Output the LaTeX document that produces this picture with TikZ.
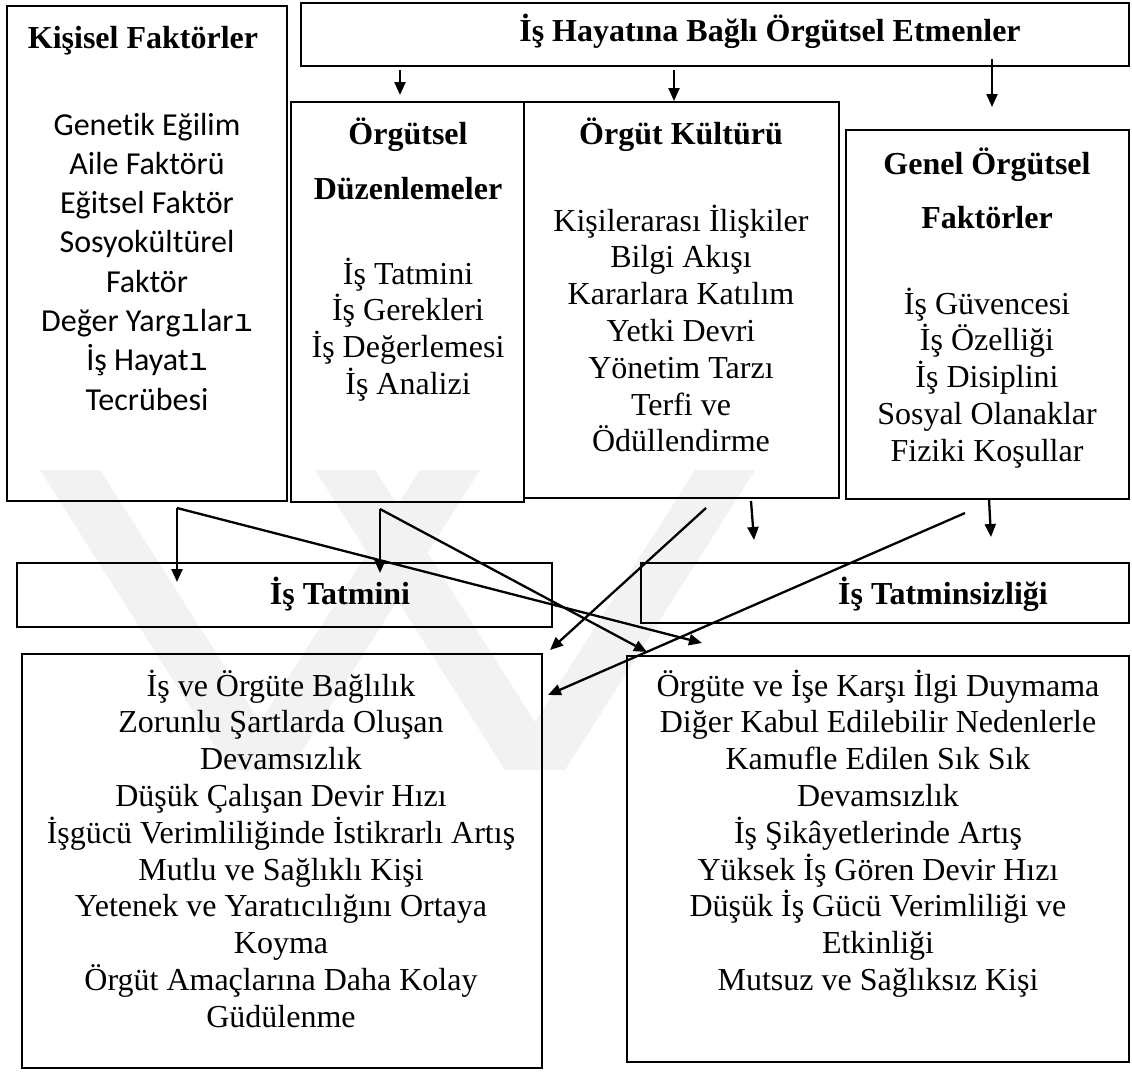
\documentclass[tikz,border=0pt]{standalone}
\usepackage{fontspec}
\setmainfont{Liberation Serif}
\newfontfamily\calibrifont[Ligatures=NoCommon]{Carlito}
\newfontfamily\typewriterfont{Liberation Mono}
\usetikzlibrary{arrows.meta}
% dotless i set in the typewriter face
\newcommand\twi{{\typewriterfont ı}}

\begin{document}
\begin{tikzpicture}[x=1pt,y=-1pt,
  box/.style={draw, line width=1.8pt, inner sep=0pt, outer sep=0pt},
  txt/.style={font=\fontsize{32}{36.8}\selectfont, inner sep=0pt, anchor=base},
  ttl/.style={inner sep=0pt, anchor=base, font=\fontsize{32}{36.8}\selectfont\bfseries},
  cal/.style={inner sep=0pt, anchor=base, font=\fontsize{32}{39.3}\selectfont\calibrifont},
  arr/.style={line width=2.3pt, -{Triangle[length=13pt,width=11pt]}},
  wmark/.style={fill=black!5, draw=none}]

\useasboundingbox[fill=white] (0,0) rectangle (1132,1072);

% faint chevrons in the background
\fill[wmark] (40,470) -- (100,470) -- (260,722) -- (420,470) -- (480,470)
  -- (290,770) -- (230,770) -- cycle;
\fill[wmark] (315,470) -- (375,470) -- (535,722) -- (695,470) -- (755,470)
  -- (565,770) -- (505,770) -- cycle;

% ---------- boxes ----------
\node[box, minimum width=280, minimum height=495] (kisisel) at (147,253.5) {};
\node[box, minimum width=828, minimum height=63]  (ust)     at (715,34.5) {};
\node[box, minimum width=233, minimum height=400] (duzen)   at (407.5,302) {};
\node[box, minimum width=315, minimum height=396] (kultur)  at (681.5,300) {};
\node[box, minimum width=283, minimum height=369] (genel)   at (987.5,314.5) {};
\node[box, minimum width=535, minimum height=64]  (tatmin)  at (284.5,595) {};
\node[box, minimum width=488, minimum height=60]  (tatsiz)  at (885,593) {};
\node[box, minimum width=520, minimum height=414] (sonucA)  at (282,861) {};
\node[box, minimum width=502, minimum height=406] (sonucB)  at (878,859) {};

% ---------- titles ----------
\node[ttl] (tUst)  at (770,41)  {İş Hayatına Bağlı Örgütsel Etmenler};
\node[ttl] (tKis)  at (143,48)  {Kişisel Faktörler};
\node[ttl] (tDuz1) at (408,144) {Örgütsel};
\node[ttl] (tDuz2) at (408,199) {Düzenlemeler};
\node[ttl] (tKul)  at (681,144) {Örgüt Kültürü};
\node[ttl] (tGen1) at (987,174) {Genel Örgütsel};
\node[ttl] (tGen2) at (987,228) {Faktörler};
\node[ttl] (tTat)  at (340,604) {İş Tatmini};
\node[ttl] (tSiz)  at (943,604) {İş Tatminsizliği};

% ---------- lists ----------
\foreach \t [count=\i from 0] in {Genetik Eğilim, Aile Faktörü, Eğitsel Faktör,
    Sosyokültürel, Faktör, Değer Yarg\twi lar\twi, İş Hayat\twi, Tecrübesi}
  \node[cal] (kis-\i) at (147,135+39.3*\i) {\t};

\foreach \t [count=\i from 0] in {İş Tatmini, İş Gerekleri, İş Değerlemesi, İş Analizi}
  \node[txt] (duz-\i) at (408,284+36.8*\i) {\t};

\foreach \t [count=\i from 0] in {Kişilerarası İlişkiler, Bilgi Akışı, Kararlara Katılım,
    Yetki Devri, Yönetim Tarzı, Terfi ve, Ödüllendirme}
  \node[txt] (kul-\i) at (681,231+36.8*\i) {\t};

\foreach \t [count=\i from 0] in {İş Güvencesi, İş Özelliği, İş Disiplini,
    Sosyal Olanaklar, Fiziki Koşullar}
  \node[txt] (gen-\i) at (987,314+36.8*\i) {\t};

\foreach \t [count=\i from 0] in {İş ve Örgüte Bağlılık, Zorunlu Şartlarda Oluşan,
    Devamsızlık, Düşük Çalışan Devir Hızı, İşgücü Verimliliğinde İstikrarlı Artış,
    Mutlu ve Sağlıklı Kişi, Yetenek ve Yaratıcılığını Ortaya, Koyma,
    Örgüt Amaçlarına Daha Kolay, Güdülenme}
  \node[txt] (sa-\i) at (281,696+36.8*\i) {\t};

\foreach \t [count=\i from 0] in {Örgüte ve İşe Karşı İlgi Duymama,
    Diğer Kabul Edilebilir Nedenlerle, Kamufle Edilen Sık Sık, Devamsızlık,
    İş Şikâyetlerinde Artış, Yüksek İş Gören Devir Hızı,
    Düşük İş Gücü Verimliliği ve, Etkinliği, Mutsuz ve Sağlıksız Kişi}
  \node[txt] (sb-\i) at (878,696+36.8*\i) {\t};

% ---------- connector points ----------
\coordinate (u1) at (400,70);   \coordinate (u1t) at (400,95);
\coordinate (u2) at (674,70);   \coordinate (u2t) at (674,101);
\coordinate (u3) at (992,59);   \coordinate (u3t) at (992,107);

\coordinate (kS) at (177,508);  \coordinate (kV) at (177,582);  \coordinate (kD) at (702,643);
\coordinate (dS) at (380,509);  \coordinate (dV) at (380,573);  \coordinate (dD) at (647,652);
\coordinate (cS) at (706,508);  \coordinate (cD) at (550,650);
\coordinate (cV0) at (751,501); \coordinate (cV) at (754,540);
\coordinate (gS) at (965,513);  \coordinate (gD) at (548,695);
\coordinate (gV0) at (989,499); \coordinate (gV) at (991,537);

% ---------- connectors ----------
\draw[arr] (u1) -- (u1t);
\draw[arr] (u2) -- (u2t);
\draw[arr] (u3) -- (u3t);

\draw[arr] (kS) -- (kV);
\draw[arr] (kS) -- (kD);
\draw[arr] (dS) -- (dV);
\draw[arr] (dS) -- (dD);
\draw[arr] (cS) -- (cD);
\draw[arr] (cV0) -- (cV);
\draw[arr] (gS) -- (gD);
\draw[arr] (gV0) -- (gV);
\end{tikzpicture}
\end{document}
